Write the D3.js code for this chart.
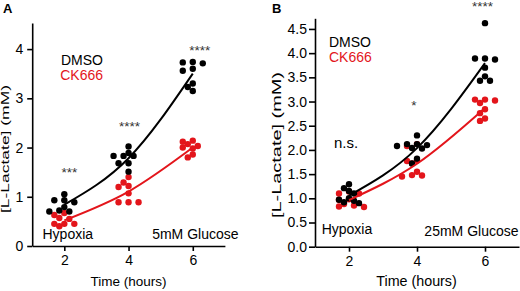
<!DOCTYPE html>
<html>
<head>
<meta charset="utf-8">
<script src="https://cdn.jsdelivr.net/npm/d3@7"></script>
<style>
  body { margin: 0; background: #fff; }
  text { font-family: "Liberation Sans", Arial, sans-serif; }
</style>
</head>
<body>
<div id="chart"></div>
<script>
// Time points and tick labels
const times = [2, 4, 6];
const xTicks = [2, 4, 6];
const yTicksA = [0, 1, 2, 3, 4];
const yTicksB = [0, 0.5, 1, 1.5, 2, 2.5, 3, 3.5, 4, 4.5];

// Panel A: 5mM glucose, lactate (mM) per replicate, one array per time point
const dmsoA = [
  [1.05, 0.93, 0.93, 0.89, 0.79, 0.72, 0.70, 0.70],
  [2.02, 1.89, 1.83, 1.83, 1.83, 1.68, 1.68, 1.51],
  [3.74, 3.73, 3.71, 3.60, 3.56, 3.30, 3.23, 3.15]
];
const ck666A = [
  [0.67, 0.63, 0.57, 0.55, 0.45, 0.45, 0.45, 0.40],
  [1.40, 1.29, 1.22, 1.20, 1.07, 0.89, 0.89, 0.89],
  [2.14, 2.12, 2.07, 2.03, 2.00, 1.98, 1.86, 1.80]
];

// Panel B: 25mM glucose
const dmsoB = [
  [1.29, 1.21, 1.15, 1.10, 1.00, 0.97, 0.95, 0.92, 0.90],
  [2.30, 2.12, 2.12, 2.10, 2.08, 2.04, 2.03, 1.82, 1.72],
  [4.62, 3.89, 3.89, 3.87, 3.70, 3.52, 3.43, 3.43]
];
const ck666B = [
  [1.14, 1.10, 1.10, 0.98, 0.97, 0.88, 0.85, 0.83, 0.82],
  [2.12, 2.08, 1.78, 1.77, 1.72, 1.55, 1.48, 1.47, 1.45],
  [3.04, 3.04, 3.02, 2.97, 2.84, 2.76, 2.65, 2.60]
];

// Significance labels per time point
const statsA = ["***", "****", "****"];
const statsB = ["n.s.", "*", "****"];

const RED = "#e3151b";
const FONT = "Liberation Sans, Arial, sans-serif";

const svg = d3.select("#chart")
    .append("svg")
    .attr("width", 520)
    .attr("height", 291)
    .style("display", "block");

svg.append("rect").attr("width", 520).attr("height", 291).attr("fill", "#fff");

// Simple column-scatter layout: place each dot at the nearest free offset
function swarm(values, x0, y, r, step) {
    const placed = [];
    values.slice().sort((a, b) => b - a).forEach(v => {
        const cy = y(v);
        for (let k = 0; k < 30; k++) {
            const off = k === 0 ? 0 : (k % 2 ? -1 : 1) * Math.ceil(k / 2) * step;
            const cx = x0 + off;
            if (placed.every(p => Math.hypot(p.cx - cx, p.cy - cy) >= 2 * r * 0.85)) {
                placed.push({cx, cy, v});
                break;
            }
        }
    });
    return placed;
}

function drawPanel(cfg) {
    const x = d3.scaleLinear().domain([1, 7]).range(cfg.xRange);
    const y = d3.scaleLinear().domain([0, cfg.yTop]).range(cfg.yRange);
    const g = svg.append("g");
    const r = 3.2;

    // Y axis
    const yAxis = g.append("g")
        .attr("transform", `translate(${cfg.xRange[0]},0)`)
        .call(d3.axisLeft(y).tickValues(cfg.yTicks).tickFormat(cfg.yFormat)
            .tickSize(cfg.yTickSize).tickSizeOuter(0).tickPadding(cfg.yPad));
    yAxis.selectAll("text").style("font-size", "14px").style("font-family", FONT).attr("fill", "#000");

    // X axis
    const xAxis = g.append("g")
        .attr("transform", `translate(0,${cfg.yRange[0]})`)
        .call(d3.axisBottom(x).tickValues(xTicks).tickFormat(d3.format("d"))
            .tickSize(5).tickSizeOuter(0).tickPadding(4));
    xAxis.selectAll("text").style("font-size", "14px").style("font-family", FONT).attr("fill", "#000");

    g.selectAll(".domain, .tick line").attr("stroke", "#000").attr("stroke-width", 1.6);

    // Dots for each series
    [[cfg.ck666, RED], [cfg.dmso, "#000"]].forEach(([series, color]) => {
        series.forEach((vals, i) => {
            g.append("g").selectAll("circle")
                .data(swarm(vals, x(times[i]), y, r, 5))
                .enter()
                .append("circle")
                .attr("cx", d => d.cx)
                .attr("cy", d => d.cy)
                .attr("r", r)
                .attr("fill", color);
        });
    });

    // Mean lines
    const line = d3.line()
        .x(d => x(d.t))
        .y(d => y(d.m))
        .curve(d3.curveMonotoneX);
    [[cfg.ck666, RED], [cfg.dmso, "#000"]].forEach(([series, color]) => {
        const means = series.map((vals, i) => ({t: times[i], m: d3.mean(vals)}));
        g.append("path")
            .datum(means)
            .attr("d", line)
            .attr("fill", "none")
            .attr("stroke", color)
            .attr("stroke-width", 2);
    });

    // Significance labels
    cfg.stats.forEach((s, i) => {
        g.append("text")
            .attr("x", x(times[i]) + cfg.statDx[i])
            .attr("y", cfg.statY[i])
            .attr("text-anchor", "middle")
            .style("font-size", s === "n.s." ? "15px" : "13.5px")
            .attr("fill", s === "n.s." ? "#000" : "#333")
            .text(s);
    });

    // Legend
    g.append("text").attr("x", cfg.legendX).attr("y", cfg.legendY)
        .attr("text-anchor", cfg.legendAnchor)
        .style("font-size", "14px").attr("fill", "#000").text("DMSO");
    g.append("text").attr("x", cfg.legendX).attr("y", cfg.legendY + cfg.legendGap)
        .attr("text-anchor", cfg.legendAnchor)
        .style("font-size", "14px").attr("fill", RED).text("CK666");

    // Condition labels
    g.append("text").attr("x", cfg.hypoxiaX).attr("y", cfg.condY)
        .style("font-size", "14px").text("Hypoxia");
    g.append("text").attr("x", cfg.glucoseX).attr("y", cfg.condY + cfg.glucoseDy)
        .attr("text-anchor", "end")
        .style("font-size", "14px").text(cfg.glucose);

    // Axis titles
    g.append("text")
        .attr("x", (cfg.xRange[0] + cfg.xRange[1]) / 2 + cfg.titleDx)
        .attr("y", 286)
        .attr("text-anchor", "middle")
        .style("font-size", cfg.titleSize)
        .text("Time (hours)");
    g.append("text")
        .attr("transform", `translate(${cfg.ylabX},${cfg.ylabY}) rotate(-90)`)
        .attr("text-anchor", "middle")
        .attr("textLength", cfg.ylabLen)
        .attr("lengthAdjust", "spacingAndGlyphs")
        .style("font-size", cfg.ylabSize)
        .text("[L-Lactate] (mM)");

    // Panel letter
    g.append("text").attr("x", cfg.letterX).attr("y", 12.5)
        .style("font-size", "13px").style("font-weight", "bold").text(cfg.letter);
}

drawPanel({
    letter: "A", letterX: 3,
    xRange: [32.2, 224.9], yRange: [246, 23], yTop: 4.53,
    yTicks: yTicksA, yFormat: d3.format("d"), yTickSize: 5, yPad: 4,
    dmso: dmsoA, ck666: ck666A,
    stats: statsA, statDx: [5, 1, 7], statY: [176.5, 130.5, 54.8],
    legendX: 103, legendY: 65.3, legendAnchor: "end", legendGap: 14.2,
    hypoxiaX: 42.5, glucoseX: 238.5, condY: 239, glucoseDy: 0, glucose: "5mM Glucose",
    titleDx: 0, titleSize: "13.5px",
    ylabX: 9, ylabY: 149, ylabLen: 128, ylabSize: "11px"
});

drawPanel({
    letter: "B", letterX: 272,
    xRange: [315, 519], yRange: [246.7, 18.3], yTop: 4.72,
    yTicks: yTicksB, yFormat: d3.format(".1f"), yTickSize: 6, yPad: 2,
    dmso: dmsoB, ck666: ck666B,
    stats: statsB, statDx: [-3, -3, -2.5], statY: [148, 109.8, 10.8],
    legendX: 329, legendY: 46.7, legendAnchor: "start", legendGap: 15,
    hypoxiaX: 321.7, glucoseX: 518.5, condY: 234, glucoseDy: 2, glucose: "25mM Glucose",
    titleDx: -0.5, titleSize: "14.3px",
    ylabX: 281, ylabY: 145, ylabLen: 146, ylabSize: "12px"
});
</script>
</body>
</html>
